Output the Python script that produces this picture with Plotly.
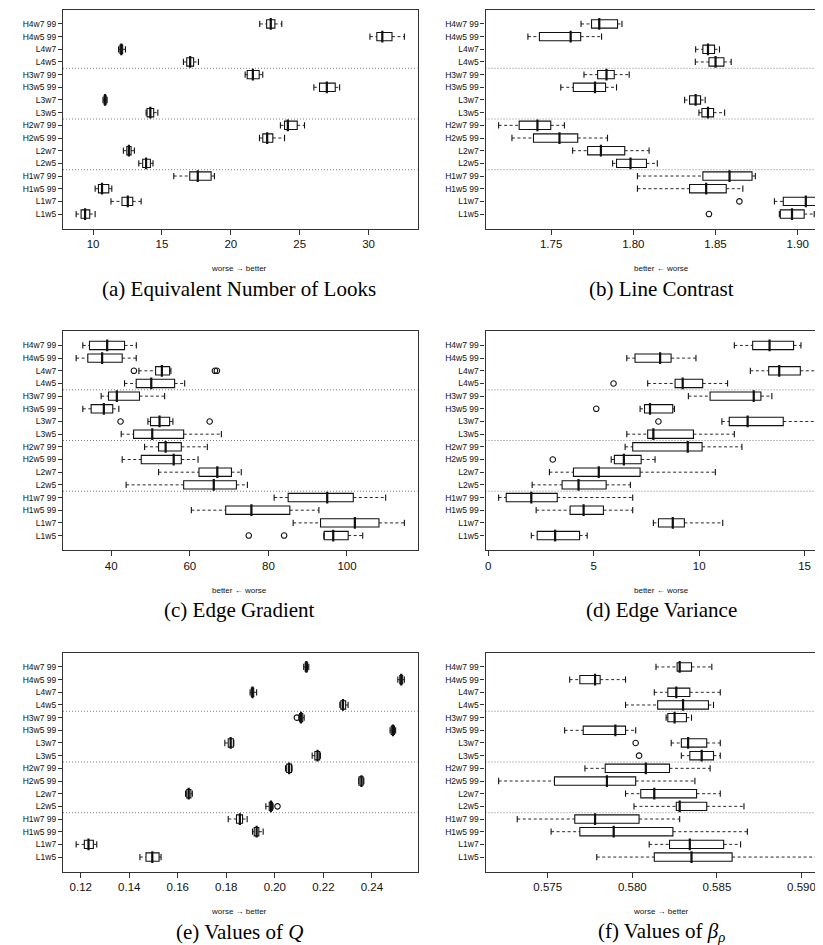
import plotly.graph_objects as go

# ---------------- data (top-to-bottom order as in the figure) ----------------
categories = ["H4w7 99", "H4w5 99", "L4w7", "L4w5", "H3w7 99", "H3w5 99", "L3w7", "L3w5",
              "H2w7 99", "H2w5 99", "L2w7", "L2w5", "H1w7 99", "H1w5 99", "L1w7", "L1w5"]

# (a) Equivalent Number of Looks
a_lo  = [22.1, 30.1, 11.85, 16.56, 21.04, 26.03, 10.72, 13.85, 23.6, 22.08, 12.2, 13.32, 15.86, 10.15, 11.3, 8.77]
a_q1  = [22.6, 30.6, 11.95, 16.8, 21.19, 26.44, 10.8, 13.92, 23.9, 22.32, 12.45, 13.6, 17.02, 10.39, 12.1, 9.13]
a_med = [22.9, 31.0, 12.05, 17.05, 21.6, 26.97, 10.87, 14.16, 24.14, 22.64, 12.6, 13.85, 17.6, 10.65, 12.52, 9.42]
a_q3  = [23.2, 31.7, 12.15, 17.3, 22.06, 27.58, 10.95, 14.4, 24.82, 23.05, 12.76, 14.16, 18.57, 11.14, 12.88, 9.76]
a_hi  = [23.7, 32.6, 12.35, 17.65, 22.32, 27.9, 11.02, 14.7, 25.35, 23.9, 13.0, 14.35, 18.81, 11.36, 13.49, 10.15]
a_out_cat = []
a_out_val = []
a_ticks = [10, 15, 20, 25, 30]
a_ticktext = ["10", "15", "20", "25", "30"]

# (b) Line Contrast
b_lo  = [1.7682, 1.7359, 1.8379, 1.8377, 1.7700, 1.7559, 1.8312, 1.8399, 1.7181, 1.7262, 1.7631, 1.7874, 1.8025, 1.8025, 1.8858, 1.8888]
b_q1  = [1.7746, 1.7429, 1.8423, 1.8460, 1.7783, 1.7635, 1.8342, 1.8417, 1.7306, 1.7393, 1.7722, 1.7898, 1.8423, 1.8342, 1.8912, 1.8894]
b_med = [1.7793, 1.7619, 1.8454, 1.8500, 1.7837, 1.7767, 1.8379, 1.8454, 1.7417, 1.7551, 1.7803, 1.7983, 1.8585, 1.8443, 1.9049, 1.8965]
b_q3  = [1.7904, 1.7680, 1.8494, 1.8551, 1.7884, 1.7831, 1.8409, 1.8488, 1.7498, 1.7662, 1.7948, 1.8080, 1.8722, 1.8565, 1.9114, 1.9039]
b_hi  = [1.7931, 1.7807, 1.8524, 1.8595, 1.7975, 1.7898, 1.8437, 1.8555, 1.7581, 1.7843, 1.8096, 1.8146, 1.8742, 1.8666, 1.9177, 1.9100]
b_out_cat = ["L1w7", "L1w5"]
b_out_val = [1.8645, 1.8460]
b_ticks = [1.75, 1.80, 1.85, 1.90]
b_ticktext = ["1.75", "1.80", "1.85", "1.90"]

# (c) Edge Gradient
c_lo  = [32.78, 31.08, 47.05, 43.4, 37.45, 32.78, 49.35, 42.55, 48.5, 42.8, 52.06, 43.8, 81.46, 60.4, 86.3, 94.1]
c_q1  = [34.48, 34.05, 51.3, 46.37, 39.32, 34.9, 50.0, 45.7, 52.06, 47.65, 62.34, 58.44, 85.03, 69.14, 93.27, 94.2]
c_med = [38.98, 37.7, 52.9, 50.2, 41.44, 38.13, 52.3, 50.45, 53.85, 55.9, 67.0, 66.1, 94.97, 75.68, 102.0, 96.5]
c_q3  = [43.4, 42.8, 54.87, 56.14, 47.2, 40.4, 54.87, 58.44, 57.84, 57.84, 70.6, 71.86, 101.6, 85.45, 108.14, 100.3]
c_hi  = [46.4, 46.37, 55.2, 58.7, 53.6, 41.95, 55.7, 68.04, 64.47, 62.1, 73.1, 74.66, 109.84, 92.85, 114.6, 104.0]
c_out_cat = ["L4w7", "L4w7", "L4w7", "L3w7", "L3w7", "L1w5", "L1w5"]
c_out_val = [45.78, 66.4, 66.9, 42.38, 65.06, 75.0, 84.0]
c_ticks = [40, 60, 80, 100]
c_ticktext = ["40", "60", "80", "100"]

# (d) Edge Variance
d_lo  = [11.67, 6.57, 12.43, 7.56, 9.49, 7.2, 11.08, 6.57, 6.49, 5.83, 2.9, 2.08, 0.49, 2.27, 7.83, 2.04]
d_q1  = [12.54, 6.96, 13.3, 8.86, 10.52, 7.41, 11.43, 7.56, 6.85, 5.98, 4.04, 3.5, 0.85, 3.88, 8.07, 2.32]
d_med = [13.34, 8.15, 13.8, 9.22, 12.59, 7.67, 12.3, 7.83, 9.46, 6.43, 5.24, 4.28, 2.04, 4.52, 8.75, 3.17]
d_q3  = [14.48, 8.67, 14.8, 10.17, 12.93, 8.75, 13.99, 9.73, 10.14, 7.25, 7.2, 5.59, 3.27, 5.46, 9.3, 4.33]
d_hi  = [14.83, 9.85, 15.96, 11.35, 13.45, 8.83, 16.06, 11.67, 12.03, 7.91, 10.77, 6.74, 6.85, 6.85, 11.12, 4.69]
d_out_cat = ["L4w5", "H3w5 99", "L3w7", "H2w5 99"]
d_out_val = [5.94, 5.12, 8.07, 3.06]
d_ticks = [0, 5, 10, 15]
d_ticktext = ["0", "5", "10", "15"]

# (e) Values of Q
e_lo  = [0.2119, 0.2507, 0.1898, 0.2268, 0.2099, 0.2475, 0.1794, 0.2154, 0.2044, 0.2346, 0.1632, 0.1963, 0.1808, 0.1908, 0.1181, 0.1444]
e_q1  = [0.2125, 0.2515, 0.1903, 0.2272, 0.2102, 0.2480, 0.1808, 0.2165, 0.2049, 0.2347, 0.1637, 0.1977, 0.1842, 0.1915, 0.1215, 0.1469]
e_med = [0.2130, 0.2521, 0.1908, 0.2281, 0.2108, 0.2487, 0.1818, 0.2176, 0.2059, 0.2357, 0.1645, 0.1984, 0.1856, 0.1925, 0.1232, 0.1495]
e_q3  = [0.2135, 0.2527, 0.1913, 0.2292, 0.2115, 0.2493, 0.1829, 0.2185, 0.2069, 0.2364, 0.1654, 0.1990, 0.1867, 0.1934, 0.1252, 0.1523]
e_hi  = [0.2140, 0.2534, 0.1925, 0.2302, 0.2121, 0.2498, 0.1831, 0.2188, 0.2071, 0.2367, 0.1660, 0.1993, 0.1886, 0.1952, 0.1266, 0.1531]
e_out_cat = ["H3w7 99", "L2w5"]
e_out_val = [0.2091, 0.2011]
e_ticks = [0.12, 0.14, 0.16, 0.18, 0.20, 0.22, 0.24]
e_ticktext = ["0.12", "0.14", "0.16", "0.18", "0.20", "0.22", "0.24"]

# (f) Values of beta_rho
f_lo  = [0.5814, 0.5763, 0.5813, 0.5796, 0.5820, 0.5760, 0.5823, 0.5829, 0.5772, 0.5721, 0.5796, 0.5801, 0.5732, 0.5752, 0.5810, 0.5779]
f_q1  = [0.58265, 0.5769, 0.5821, 0.5815, 0.5821, 0.5771, 0.5829, 0.5834, 0.5784, 0.5754, 0.5805, 0.5826, 0.5766, 0.5769, 0.5822, 0.5813]
f_med = [0.5828, 0.5778, 0.5826, 0.5830, 0.5825, 0.5790, 0.5833, 0.5841, 0.5808, 0.5785, 0.5813, 0.5828, 0.5778, 0.5789, 0.5834, 0.5835]
f_q3  = [0.5835, 0.5781, 0.5834, 0.5845, 0.5832, 0.5796, 0.5844, 0.5848, 0.5822, 0.5802, 0.5838, 0.5844, 0.5804, 0.5824, 0.5854, 0.5859]
f_hi  = [0.5847, 0.5796, 0.5852, 0.5848, 0.5835, 0.5802, 0.5852, 0.5852, 0.5846, 0.5837, 0.5852, 0.5866, 0.5828, 0.5868, 0.5864, 0.5915]
f_out_cat = ["L3w7", "L3w5"]
f_out_val = [0.5802, 0.5804]
f_ticks = [0.575, 0.580, 0.585, 0.590]
f_ticktext = ["0.575", "0.580", "0.585", "0.590"]

separators = [3.5, 7.5, 11.5]

# ---------------- layout helpers ----------------
W, H = 823, 945
col_x = [(55, 409.5), (477.5, 823)]          # frame pixel extents (right column clipped by image edge)
col_center = [231, 653]
row_y = [(1.5, 220.5), (323, 542), (644.5, 863.5)]

panels = [
    dict(lo=a_lo, q1=a_q1, med=a_med, q3=a_q3, hi=a_hi, oc=a_out_cat, ov=a_out_val,
         tv=a_ticks, tt=a_ticktext, rng=[7.817, 33.553], xt="worse → better",
         cap="(a) Equivalent Number of Looks"),
    dict(lo=b_lo, q1=b_q1, med=b_med, q3=b_q3, hi=b_hi, oc=b_out_cat, ov=b_out_val,
         tv=b_ticks, tt=b_ticktext, rng=[1.710116, 1.920209], xt="better ← worse",
         cap="(b) Line Contrast"),
    dict(lo=c_lo, q1=c_q1, med=c_med, q3=c_q3, hi=c_hi, oc=c_out_cat, ov=c_out_val,
         tv=c_ticks, tt=c_ticktext, rng=[27.74, 117.94], xt="better ← worse",
         cap="(c) Edge Gradient"),
    dict(lo=d_lo, q1=d_q1, med=d_med, q3=d_q3, hi=d_hi, oc=d_out_cat, ov=d_out_val,
         tv=d_ticks, tt=d_ticktext, rng=[-0.1328, 16.2555], xt="better ← worse",
         cap="(d) Edge Variance"),
    dict(lo=e_lo, q1=e_q1, med=e_med, q3=e_q3, hi=e_hi, oc=e_out_cat, ov=e_out_val,
         tv=e_ticks, tt=e_ticktext, rng=[0.11269, 0.25881], xt="worse → better",
         cap="(e) Values of <i>Q</i>"),
    dict(lo=f_lo, q1=f_q1, med=f_med, q3=f_q3, hi=f_hi, oc=f_out_cat, ov=f_out_val,
         tv=f_ticks, tt=f_ticktext, rng=[0.571324, 0.591744], xt="worse → better",
         cap="(f) Values of <i>β</i><sub><i>ρ</i></sub>"),
]

SANS = "Liberation Sans, Arial, sans-serif"
SERIF = "Liberation Serif, DejaVu Serif, serif"
INK = "#111111"
FRAME = "#333333"

fig = go.Figure()
layout = dict(width=W, height=H, margin=dict(l=0, r=0, t=0, b=0),
              paper_bgcolor="white", plot_bgcolor="white", showlegend=False,
              shapes=[], annotations=[])

for i, p in enumerate(panels):
    col, row = i % 2, i // 2
    sfx = "" if i == 0 else str(i + 1)
    xa, ya = "x" + sfx, "y" + sfx
    x0, x1 = col_x[col]
    y0, y1 = row_y[row]

    # whiskers (dashed)
    wx, wy = [], []
    for c, lo, q1, q3, hi in zip(categories, p["lo"], p["q1"], p["q3"], p["hi"]):
        wx += [lo, q1, None, q3, hi, None]
        wy += [c, c, None, c, c, None]
    fig.add_trace(go.Scatter(x=wx, y=wy, mode="lines", xaxis=xa, yaxis=ya,
                             line=dict(color=INK, width=0.9, dash="3px,2.5px"),
                             hoverinfo="skip"))
    # boxes
    fig.add_trace(go.Box(orientation="h", y=categories, q1=p["q1"], median=p["med"], q3=p["q3"],
                         lowerfence=p["q1"], upperfence=p["q3"], xaxis=xa, yaxis=ya,
                         fillcolor="white", line=dict(color=INK, width=1.1), width=0.66,
                         whiskerwidth=0, boxpoints=False))
    # thick median lines
    fig.add_trace(go.Scatter(x=p["med"], y=categories, mode="markers", xaxis=xa, yaxis=ya,
                             marker=dict(symbol="line-ns", size=8.4, color=INK,
                                         line=dict(color=INK, width=2.2)),
                             hoverinfo="skip"))
    # staples
    fig.add_trace(go.Scatter(x=p["lo"] + p["hi"], y=categories + categories, mode="markers",
                             xaxis=xa, yaxis=ya,
                             marker=dict(symbol="line-ns", size=4.5, color=INK,
                                         line=dict(color=INK, width=1.1)),
                             hoverinfo="skip"))
    # outliers
    if p["ov"]:
        fig.add_trace(go.Scatter(x=p["ov"], y=p["oc"], mode="markers", xaxis=xa, yaxis=ya,
                                 marker=dict(symbol="circle-open", size=5.5, color=INK,
                                             line=dict(color=INK, width=1.1)),
                                 hoverinfo="skip"))

    layout["xaxis" + sfx] = dict(domain=[x0 / W, x1 / W], anchor=ya, range=p["rng"],
                                 tickvals=p["tv"], ticktext=p["tt"], ticks="outside",
                                 ticklen=5, tickwidth=1, tickcolor=FRAME,
                                 showline=True, linecolor=FRAME, linewidth=1.2, mirror=True,
                                 showgrid=False, zeroline=False,
                                 tickfont=dict(family=SANS, size=11.5, color=INK))
    layout["yaxis" + sfx] = dict(domain=[1 - y1 / H, 1 - y0 / H], anchor=xa, type="category",
                                 categoryorder="array", categoryarray=categories[::-1],
                                 range=[-1.14, 16.14], ticks="outside", ticklen=4,
                                 tickwidth=1, tickcolor=FRAME,
                                 showline=True, linecolor=FRAME, linewidth=1.2,
                                 mirror=(col == 0), showgrid=False, zeroline=False,
                                 tickfont=dict(family=SANS, size=8.5, color=INK))
    for s in separators:
        layout["shapes"].append(dict(type="line", xref=xa + " domain", x0=0, x1=1,
                                     yref=ya, y0=s, y1=s, layer="below",
                                     line=dict(color="#808080", width=1, dash="1px,2px")))
    layout["annotations"].append(dict(text=p["xt"], xref="paper", yref="paper",
                                      x=col_center[col] / W, y=1 - (y1 + 40) / H,
                                      xanchor="center", yanchor="middle", showarrow=False,
                                      font=dict(family=SANS, size=8, color=INK)))
    layout["annotations"].append(dict(text=p["cap"], xref="paper", yref="paper",
                                      x=col_center[col] / W, y=1 - (y1 + 60) / H,
                                      xanchor="center", yanchor="middle", showarrow=False,
                                      font=dict(family=SERIF, size=21, color="#000000")))

fig.update_layout(**layout)
fig.write_html("out.html")
